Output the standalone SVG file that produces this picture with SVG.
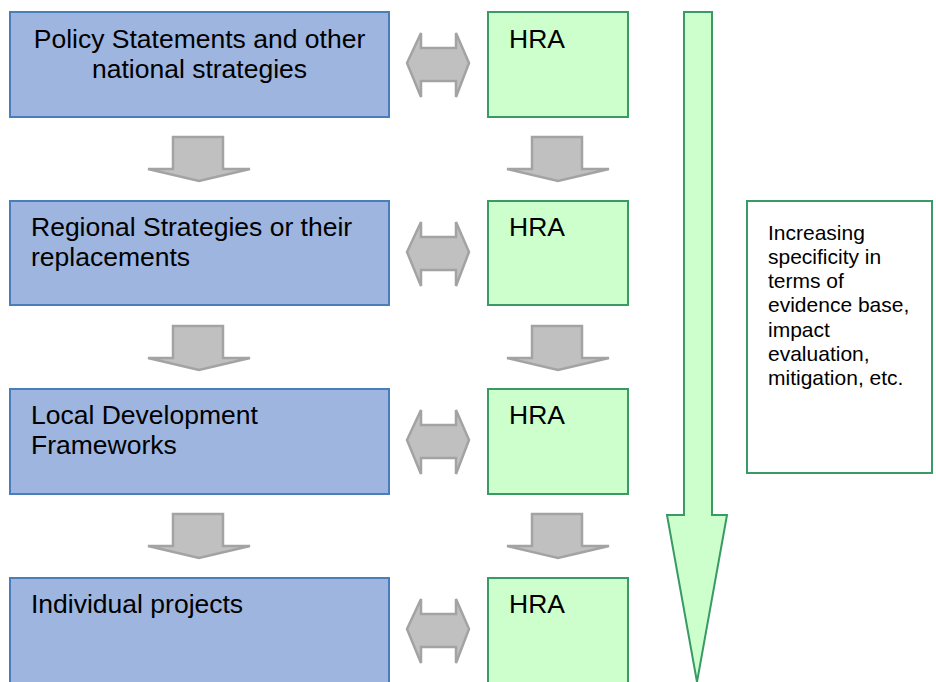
<svg xmlns="http://www.w3.org/2000/svg" width="936" height="682" viewBox="0 0 936 682">
<style>
.blue{fill:#9DB5DF;stroke:#4A7EBB;stroke-width:2}
.green{fill:#CCFFCC;stroke:#3A9A66;stroke-width:2}
.gray{fill:#C0C0C0;stroke:#A3A3A3;stroke-width:2.5;stroke-linejoin:miter}
text{font-family:"Liberation Sans",Arial,sans-serif;fill:#000}
.t{font-size:26.5px}
.s{font-size:21px}
</style>
<defs>
<path id="dbl" d="M0,0 L14,-30 L14,-15 L49,-15 L49,-30 L62,0 L49,34 L49,18 L14,18 L14,34 Z"/>
<path id="down" d="M25,0 L75,0 L75,32 L102,32 L51,44 L0,32 L25,32 Z"/>
</defs>
<rect width="936" height="682" fill="#fff"/>
<g id="connectors">
<use href="#dbl" x="407" y="63" class="gray"/>
<use href="#dbl" x="407" y="252" class="gray"/>
<use href="#dbl" x="407" y="440" class="gray"/>
<use href="#dbl" x="407" y="629" class="gray"/>
<use href="#down" x="148" y="137" class="gray"/>
<use href="#down" x="148" y="326" class="gray"/>
<use href="#down" x="148" y="514" class="gray"/>
<use href="#down" x="507" y="137" class="gray"/>
<use href="#down" x="507" y="326" class="gray"/>
<use href="#down" x="507" y="514" class="gray"/>
</g>
<g id="big-arrow">
<path class="green" d="M684,12 L712,12 L712,515 L727,515 L697,682 L667,515 L684,515 Z"/>
</g>
<g id="node-policy">
<rect class="blue" x="10" y="12" width="379" height="105"/>
<text class="t" x="199.5" y="48" text-anchor="middle">Policy Statements and other</text>
<text class="t" x="199.5" y="78" text-anchor="middle">national strategies</text>
</g>
<g id="node-regional">
<rect class="blue" x="10" y="201" width="379" height="104"/>
<text class="t" x="31" y="236">Regional Strategies or their</text>
<text class="t" x="31" y="266">replacements</text>
</g>
<g id="node-local">
<rect class="blue" x="10" y="389" width="379" height="105"/>
<text class="t" x="31" y="424">Local Development</text>
<text class="t" x="31" y="454">Frameworks</text>
</g>
<g id="node-projects">
<rect class="blue" x="10" y="578" width="379" height="110"/>
<text class="t" x="31" y="613">Individual projects</text>
</g>
<g id="hra-1">
<rect class="green" x="488" y="12" width="140" height="105"/>
<text class="t" x="509" y="48">HRA</text>
</g>
<g id="hra-2">
<rect class="green" x="488" y="201" width="140" height="104"/>
<text class="t" x="509" y="236">HRA</text>
</g>
<g id="hra-3">
<rect class="green" x="488" y="389" width="140" height="105"/>
<text class="t" x="509" y="424">HRA</text>
</g>
<g id="hra-4">
<rect class="green" x="488" y="578" width="140" height="110"/>
<text class="t" x="509" y="613">HRA</text>
</g>
<g id="note">
<rect class="green" x="747" y="201" width="185" height="272" style="fill:#fff"/>
<text class="s" x="768" y="240">Increasing</text>
<text class="s" x="768" y="264">specificity in</text>
<text class="s" x="768" y="288">terms of</text>
<text class="s" x="768" y="312">evidence base,</text>
<text class="s" x="768" y="337">impact</text>
<text class="s" x="768" y="361">evaluation,</text>
<text class="s" x="768" y="385">mitigation, etc.</text>
</g>
</svg>
